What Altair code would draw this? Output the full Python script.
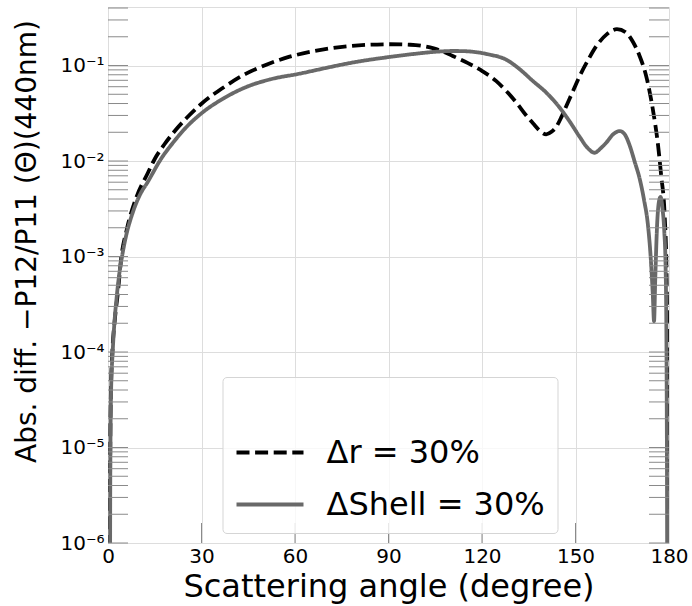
import altair as alt
import pandas as pd

# ---- data ----
series_names = ["Δr = 30%", "ΔShell = 30%"]

angle_r = [0.55, 0.62, 0.72, 0.95, 1.4, 2.2, 3.1, 4.3, 6.0, 9.1, 12.7, 15.0, 18.0, 21.3, 25.2,
           30.0, 37.3, 44.0, 50.8, 58.0, 66.9, 77.5, 90.4, 97.0, 101.0, 104.5, 107.5, 110.6,
           115.5, 120.2, 124.5, 127.8, 131.0, 134.2, 136.5, 138.5, 140.6, 142.3, 143.9,
           145.5, 147.1, 149.2, 151.3, 153.9, 156.7, 160.0, 163.3, 166.3, 168.5, 170.6,
           172.7, 174.8, 176.5, 177.5, 178.6, 179.2, 179.5, 179.7, 179.8]
value_r = [1e-8, 1e-6, 1e-5, 4e-5, 1e-4, 2.2e-4, 4e-4, 1e-3, 1.9e-3, 4.17e-3, 7.4e-3, 0.0105,
           0.0148, 0.0204, 0.0282, 0.0398, 0.0596, 0.0813, 0.102, 0.123, 0.143, 0.160, 0.167,
           0.165, 0.160, 0.151, 0.14, 0.126, 0.106, 0.087, 0.069, 0.054, 0.041, 0.030, 0.0245,
           0.0208, 0.019, 0.0202, 0.023, 0.029, 0.038, 0.054, 0.077, 0.112, 0.16, 0.212,
           0.24, 0.22, 0.175, 0.125, 0.077, 0.035, 0.0145, 0.007, 0.0027, 7e-4, 6e-5, 1e-6,
           1e-8]

angle_s = [0.6, 0.68, 0.78, 1.0, 1.5, 2.0, 2.8, 3.6, 4.5, 5.9, 7.8, 10.2, 12.7, 17.0, 21.3,
           25.0, 30.0, 37.3, 44.0, 52.0, 61.5, 70.0, 77.5, 90.4, 98.0, 106.0, 111.0, 115.0,
           122.0, 127.8, 132.0, 136.3, 140.5, 144.9, 148.0, 151.3, 153.8, 156.1, 158.0,
           159.9, 162.2, 164.2, 165.8, 167.4, 169.0, 170.6, 172.0, 173.2, 174.2, 174.8,
           175.2, 175.6, 176.2, 176.8, 177.3, 177.9, 178.5, 178.9, 179.2, 179.4, 179.5]
value_s = [1e-8, 1e-6, 1e-5, 4e-5, 1e-4, 1.9e-4, 3.8e-4, 6.5e-4, 1e-3, 1.7e-3, 2.8e-3,
           4.4e-3, 6.0e-3, 0.0105, 0.0162, 0.0224, 0.0316, 0.0457, 0.0589, 0.0716, 0.0822,
           0.0944, 0.106, 0.123, 0.132, 0.140, 0.142, 0.141, 0.131, 0.115, 0.092, 0.069,
           0.0525, 0.0363, 0.0263, 0.018, 0.0138, 0.0122, 0.0135, 0.0156, 0.0192, 0.0206,
           0.019, 0.0145, 0.0098, 0.0065, 0.0039, 0.0022, 9e-4, 4e-4, 2.1e-4, 6e-4, 2.2e-3,
           3.8e-3, 4.2e-3, 3.2e-3, 1.8e-3, 8e-4, 1e-4, 1e-6, 1e-8]

x_ticks = [0, 30, 60, 90, 120, 150, 180]
x_inner_ticks = [30, 60, 90, 120, 150]
y_major = [1e-6, 1e-5, 1e-4, 1e-3, 1e-2, 1e-1]
y_minor = [m * 10.0 ** k for k in range(-6, 0) for m in range(1, 10) if m * 10.0 ** k <= 0.41]

df_r = pd.DataFrame({"angle": angle_r, "value": value_r, "series": series_names[0]})
df_s = pd.DataFrame({"angle": angle_s, "value": value_s, "series": series_names[1]})

W, H = 561, 536
FONT = "DejaVu Sans"

xscale = alt.Scale(domain=[0, 180], nice=False, zero=False)
yscale = alt.Scale(type="log", domain=[1e-6, 0.41], nice=False)

legend = alt.Legend(
    title=" ", orient="none", legendX=114.5, legendY=370,
    symbolType="stroke", symbolSize=4489, symbolStrokeWidth=3.8,
    labelFontSize=32, labelFont=FONT, labelColor="black", labelOffset=21,
    labelLimit=500, rowPadding=-20, padding=12,
    fillColor="rgba(255,255,255,0.8)", strokeColor="#d5d5d5", cornerRadius=4,
    titleFontSize=20, titlePadding=8,
)

color = alt.Color("series:N", scale=alt.Scale(domain=series_names, range=["#000000", "#696969"]),
                  legend=legend)
dash = alt.StrokeDash("series:N", scale=alt.Scale(domain=series_names, range=[[13, 5.6], [1, 0]]),
                      legend=legend)

x_axis = alt.Axis(values=x_ticks, title="Scattering angle (degree)", grid=True,
                  ticks=False, domain=False, labelFontSize=20, labelPadding=3,
                  labelFont=FONT, labelColor="black", titleFont=FONT,
                  titleFontSize=32, titleFontWeight="normal", titleColor="black",
                  titlePadding=5, labelFlush=False)
y_axis = alt.Axis(values=y_major, title="Abs. diff. −P12/P11 (Θ)(440nm)", grid=True,
                  ticks=False, domain=False, labelFontSize=20, labelPadding=4,
                  labelFont=FONT, labelColor="black",
                  labelExpr="'10⁻' + ['⁰','¹','²','³','⁴','⁵','⁶'][-round(log(datum.value)/LN10)]",
                  titleFont=FONT, titleFontSize=28, titleFontWeight="normal",
                  titleColor="black", titleAngle=270, titleX=-81, titleY=234,
                  titleAlign="center", titleBaseline="middle", labelFlush=False)

x_enc = alt.X("angle:Q", scale=xscale, axis=x_axis)
y_enc = alt.Y("value:Q", scale=yscale, axis=y_axis)

line_r = alt.Chart(df_r).mark_line(strokeWidth=3.8, clip=True, interpolate="monotone").encode(
    x=x_enc, y=y_enc, color=color, strokeDash=dash)
line_s = alt.Chart(df_s).mark_line(strokeWidth=3.8, clip=True, interpolate="monotone").encode(
    x=x_enc, y=y_enc, color=color, strokeDash=dash)

df_ym = pd.DataFrame({"value": y_minor})
df_xt = pd.DataFrame({"angle": x_inner_ticks})
left_ticks = alt.Chart(df_ym).mark_rule(color="#8a8a8a", strokeWidth=1).encode(
    y=y_enc, x=alt.value(0), x2=alt.value(20))
right_ticks = alt.Chart(df_ym).mark_rule(color="#8a8a8a", strokeWidth=1).encode(
    y=y_enc, x=alt.value(W - 20), x2=alt.value(W))
bottom_ticks = alt.Chart(df_xt).mark_rule(color="#8a8a8a", strokeWidth=1).encode(
    x=x_enc, y=alt.value(H - 20), y2=alt.value(H))

chart = alt.layer(line_r, line_s, left_ticks, right_ticks, bottom_ticks).properties(
    width=W, height=H,
    padding={"left": 108, "top": 7, "right": 23, "bottom": 63},
    autosize=alt.AutoSizeParams(type="none"),
).configure_view(stroke="#8c8c8c", strokeWidth=1.5).configure_axis(
    gridColor="#c8c8c8", gridDash=[1, 2.5], gridWidth=0.9
).configure(font=FONT, background="white")

chart.save("out.html", embed_options={"renderer": "svg", "actions": False})
